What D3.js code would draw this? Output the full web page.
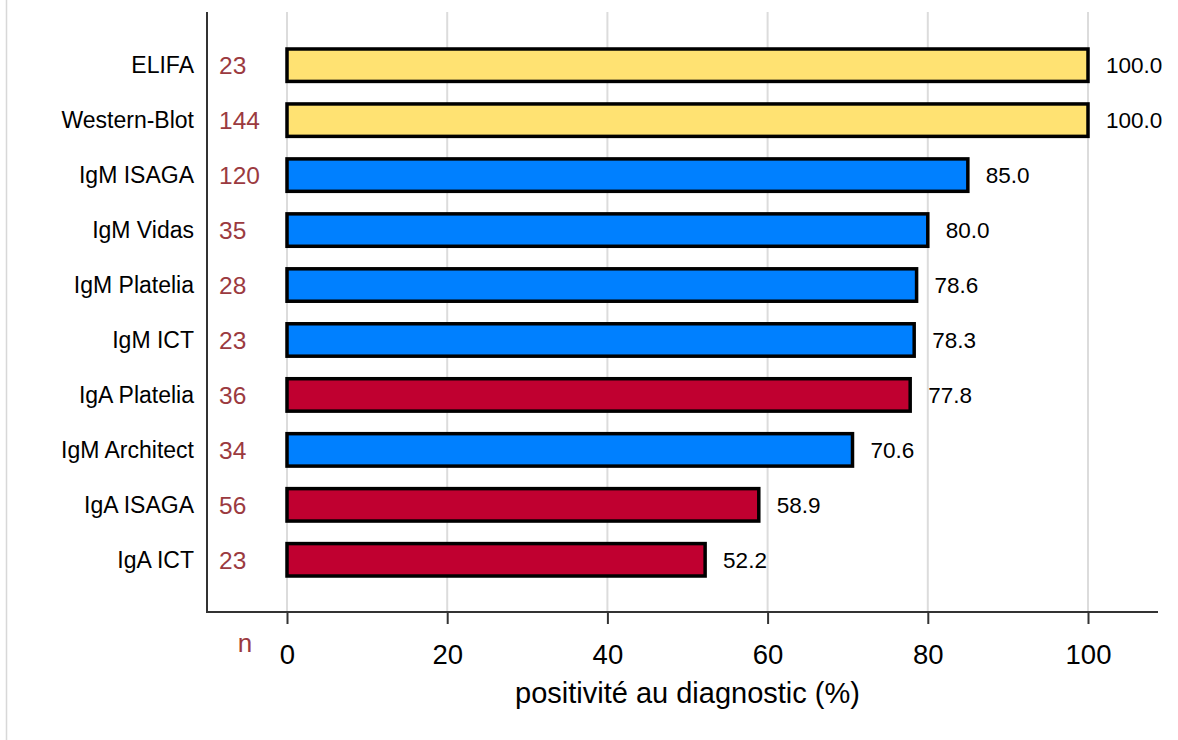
<!DOCTYPE html>
<html>
<head>
<meta charset="utf-8">
<script src="https://cdn.jsdelivr.net/npm/d3@7"></script>
<style>
  body { margin: 0; background: #fff; }
  text { font-family: "Liberation Sans", Arial, sans-serif; }
</style>
</head>
<body>
<script>
const tests = ["ELIFA", "Western-Blot", "IgM ISAGA", "IgM Vidas", "IgM Platelia",
  "IgM ICT", "IgA Platelia", "IgM Architect", "IgA ISAGA", "IgA ICT"];
const counts = [23, 144, 120, 35, 28, 23, 36, 34, 56, 23];
const positivity = [100.0, 100.0, 85.0, 80.0, 78.6, 78.3, 77.8, 70.6, 58.9, 52.2];
const kinds = ["WB", "WB", "IgM", "IgM", "IgM", "IgM", "IgA", "IgM", "IgA", "IgA"];
const xTicks = [0, 20, 40, 60, 80, 100];

const colorOf = { WB: "#ffe272", IgM: "#0080ff", IgA: "#c00030" };

const W = 1178, H = 740;
const svg = d3.select("body").append("svg")
  .attr("width", W)
  .attr("height", H);

// faint frame line on the left
svg.append("line")
  .attr("x1", 6.5).attr("x2", 6.5)
  .attr("y1", 0).attr("y2", H)
  .attr("stroke", "#d8d8d8").attr("stroke-width", 1.5);

const axisLeft = 207, axisBottom = 612, plotTop = 12, plotRight = 1158;

const x = d3.scaleLinear().domain([0, 100]).range([287, 1088]);
const y = d3.scaleBand().domain(tests).range([38, 587]).paddingInner(0.41).paddingOuter(0.2);

// grid
svg.append("g")
  .selectAll("line")
  .data(xTicks)
  .enter()
  .append("line")
  .attr("x1", d => x(d)).attr("x2", d => x(d))
  .attr("y1", plotTop).attr("y2", axisBottom)
  .attr("stroke", "#dcdcdc")
  .attr("stroke-width", 2);

// bars
svg.append("g")
  .selectAll("rect")
  .data(tests)
  .enter()
  .append("rect")
  .attr("x", x(0))
  .attr("y", d => y(d))
  .attr("width", (d, i) => x(positivity[i]) - x(0))
  .attr("height", y.bandwidth())
  .attr("fill", (d, i) => colorOf[kinds[i]])
  .attr("stroke", "#000")
  .attr("stroke-width", 3.5);

// value labels
svg.append("g")
  .selectAll("text")
  .data(tests)
  .enter()
  .append("text")
  .attr("x", (d, i) => x(positivity[i]) + 18)
  .attr("y", d => y(d) + y.bandwidth() / 2)
  .attr("dy", "0.36em")
  .attr("font-size", 22.5)
  .attr("fill", "#000")
  .text((d, i) => positivity[i].toFixed(1));

// category labels
svg.append("g")
  .selectAll("text")
  .data(tests)
  .enter()
  .append("text")
  .attr("x", 194)
  .attr("y", d => y(d) + y.bandwidth() / 2)
  .attr("dy", "0.36em")
  .attr("text-anchor", "end")
  .attr("font-size", 23)
  .attr("fill", "#000")
  .text(d => d);

// n counts
svg.append("g")
  .selectAll("text")
  .data(tests)
  .enter()
  .append("text")
  .attr("x", 219)
  .attr("y", d => y(d) + y.bandwidth() / 2)
  .attr("dy", "0.36em")
  .attr("font-size", 24.5)
  .attr("fill", "#9b3a40")
  .text((d, i) => counts[i]);

// axes lines
svg.append("line")
  .attr("x1", axisLeft).attr("x2", axisLeft)
  .attr("y1", plotTop).attr("y2", axisBottom + 1)
  .attr("stroke", "#333").attr("stroke-width", 2);

const xAxis = d3.axisBottom(x).tickValues(xTicks).tickSize(12).tickPadding(20);
const gx = svg.append("g")
  .attr("transform", `translate(0,${axisBottom})`)
  .call(xAxis);
gx.select(".domain").remove();
gx.selectAll(".tick line").attr("stroke", "#333").attr("stroke-width", 2);
gx.selectAll(".tick text")
  .attr("font-size", 27.5)
  .attr("font-family", "Liberation Sans, Arial, sans-serif")
  .attr("fill", "#000");
svg.append("line")
  .attr("x1", axisLeft - 1).attr("x2", plotRight)
  .attr("y1", axisBottom).attr("y2", axisBottom)
  .attr("stroke", "#333").attr("stroke-width", 2);

svg.append("text")
  .attr("x", 245)
  .attr("y", 652)
  .attr("text-anchor", "middle")
  .attr("font-size", 26)
  .attr("fill", "#9b3a40")
  .text("n");

svg.append("text")
  .attr("x", x(50))
  .attr("y", 703)
  .attr("text-anchor", "middle")
  .attr("font-size", 29)
  .attr("fill", "#000")
  .text("positivité au diagnostic (%)");
</script>
</body>
</html>
